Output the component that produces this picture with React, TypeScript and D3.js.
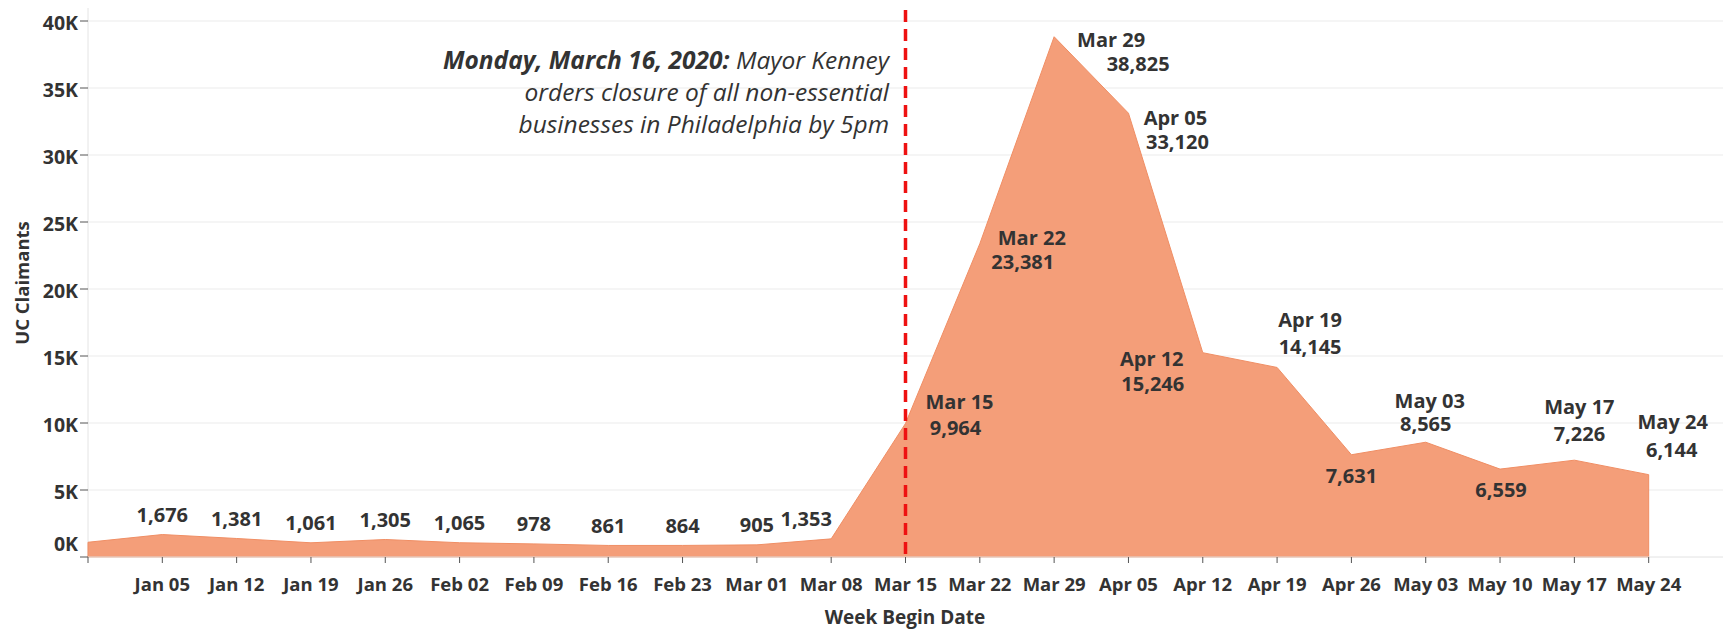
import * as React from 'react';
import * as d3 from 'd3';

const weeks = [
  '2019-12-29', '2020-01-05', '2020-01-12', '2020-01-19', '2020-01-26', '2020-02-02',
  '2020-02-09', '2020-02-16', '2020-02-23', '2020-03-01', '2020-03-08', '2020-03-15',
  '2020-03-22', '2020-03-29', '2020-04-05', '2020-04-12', '2020-04-19', '2020-04-26',
  '2020-05-03', '2020-05-10', '2020-05-17', '2020-05-24',
];
const claimants = [
  1100, 1676, 1381, 1061, 1305, 1065, 978, 861, 864, 905, 1353, 9964,
  23381, 38825, 33120, 15246, 14145, 7631, 8565, 6559, 7226, 6144,
];
// which points carry the week name above the value
const showName = [
  false, false, false, false, false, false, false, false, false, false, false, true,
  true, true, true, true, true, false, true, false, true, true,
];
const yTicks = [0, 5000, 10000, 15000, 20000, 25000, 30000, 35000, 40000];
const eventWeek = '2020-03-15';
const annotationBold = 'Monday, March 16, 2020:';
const annotationLines = ['Mayor Kenney', 'orders closure of all non-essential', 'businesses in Philadelphia by 5pm'];

// label placement relative to each point: [name dx, name dy, value dx, value dy]
const placement: [number, number, number, number][] = [
  [0, 0, 0, 0], [0, 0, 0, -20], [0, 0, 0, -20], [0, 0, 0, -20], [0, 0, 0, -20], [0, 0, 0, -20],
  [0, 0, 0, -20], [0, 0, 0, -20], [0, 0, 0, -20], [0, 0, 0, -20], [0, 0, -25, -20], [54, -22, 50, 4],
  [52, -6, 43, 18], [57, 3, 84, 27], [47, 4, 49, 28], [-51, 6, -50, 31], [33, -48, 33, -21], [0, 0, 0, 21],
  [4, -42, 0, -19], [0, 0, 1, 20], [5, -54, 5, -27], [24, -53, 23, -25],
];

const W = 1723;
const H = 631;
const left = 88;
const right = 1723;
const top = 21;
const bottom = 557;
const font = '"Open Sans", sans-serif';
const ink = '#333333';

const parse = d3.timeParse('%Y-%m-%d');
const fmtWeek = d3.timeFormat('%b %d');
const fmtNum = d3.format(',');

export default function App() {
  const dates = weeks.map(w => parse(w) as Date);
  const last = d3.timeWeek.offset(dates[dates.length - 1], 1);

  const x = d3.scaleTime().domain([dates[0], last]).range([left, right]);
  const y = d3.scaleLinear().domain([0, 40000]).range([bottom, top]);

  const area = d3.area<number>()
    .x((_, i) => x(dates[i]))
    .y0(y(0))
    .y1(d => y(d));

  const ex = x(parse(eventWeek) as Date);

  return (
    <svg width={W} height={H} style={{position: 'absolute', left: 0, top: 0, background: '#fff'}}>
      {yTicks.slice(1).map(t => (
        <line key={t} x1={left} x2={right} y1={y(t)} y2={y(t)} stroke="#ececec" strokeWidth={1.2} />
      ))}
      <line x1={left} x2={left} y1={8} y2={bottom} stroke="#e4e4e4" />

      <path d={area(claimants) || ''} fill="#f49e79" stroke="#f08e64" strokeWidth={1} />
      <line x1={left} x2={right} y1={bottom} y2={bottom} stroke="#e2e2e2" />

      {yTicks.map(t => (
        <g key={t} fontFamily={font} fontWeight={700} fontSize={19.5} fill={ink}>
          <line x1={left - 8} x2={left} y1={y(t)} y2={y(t)} stroke="#555" />
          <text x={left - 10} y={t === 0 ? y(t) - 14 : y(t) + 1} textAnchor="end" dominantBaseline="central">
            {`${t / 1000}K`}
          </text>
        </g>
      ))}

      {dates.map((d, i) => (
        <g key={i} fontFamily={font} fontWeight={700} fontSize={18.5} fill={ink}>
          <line x1={x(d)} x2={x(d)} y1={bottom} y2={bottom + 6} stroke="#555" />
          {i > 0 && (
            <text x={x(d)} y={583} textAnchor="middle" dominantBaseline="central">{fmtWeek(d)}</text>
          )}
        </g>
      ))}

      <text x={905} y={617} textAnchor="middle" dominantBaseline="central"
        fontFamily={font} fontWeight={700} fontSize={19} fill={ink}>Week Begin Date</text>
      <text transform="translate(21,283) rotate(-90)" textAnchor="middle" dominantBaseline="central"
        fontFamily={font} fontWeight={700} fontSize={18.5} fill={ink}>UC Claimants</text>

      <line x1={ex} x2={ex} y1={10} y2={bottom} stroke="#ee1111" strokeWidth={3.5} strokeDasharray="12 7" />

      <g fontFamily={font} fontSize={24.5} fill={ink} fontStyle="italic" textAnchor="end">
        <text x={889} y={59} dominantBaseline="central">
          <tspan fontWeight={700}>{annotationBold}</tspan>
          <tspan> {annotationLines[0]}</tspan>
        </text>
        <text x={889} y={91} dominantBaseline="central">{annotationLines[1]}</text>
        <text x={889} y={123} dominantBaseline="central">{annotationLines[2]}</text>
      </g>

      <g fontFamily={font} fontWeight={700} fontSize={20} fill={ink} textAnchor="middle">
        {claimants.map((v, i) => {
          if (i === 0) return null;
          const px = x(dates[i]);
          const py = y(v);
          const [ndx, ndy, vdx, vdy] = placement[i];
          return (
            <g key={i}>
              {showName[i] && (
                <text x={px + ndx} y={py + ndy} dominantBaseline="central">{fmtWeek(dates[i])}</text>
              )}
              <text x={px + vdx} y={py + vdy} dominantBaseline="central">{fmtNum(v)}</text>
            </g>
          );
        })}
      </g>
    </svg>
  );
}
